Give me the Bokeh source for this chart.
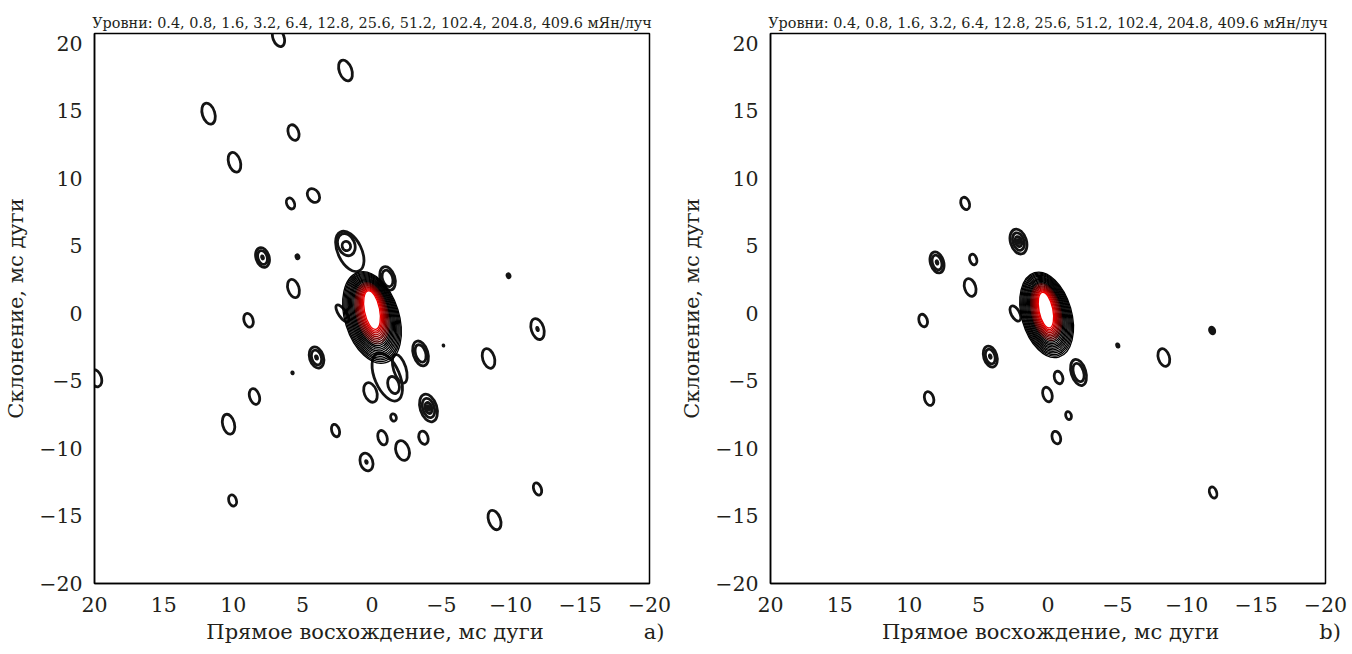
import numpy as np
from bokeh.plotting import figure
from bokeh.layouts import row
from bokeh.models import ColumnDataSource, FixedTicker, Range1d
from bokeh.embed import file_html
from bokeh.resources import INLINE

TITLE = "Уровни: 0.4, 0.8, 1.6, 3.2, 6.4, 12.8, 25.6, 51.2, 102.4, 204.8, 409.6 мЯн/луч"
X_LABEL = "Прямое восхождение, мс дуги"
Y_LABEL = "Склонение, мс дуги"
X_TICKS = [20, 15, 10, 5, 0, -5, -10, -15, -20]
Y_TICKS = [-20, -15, -10, -5, 0, 5, 10, 15, 20]
PANEL_TAGS = ["a)", "b)"]

# ---- panel a: compact components (RA mas, Dec mas, width, height, tilt rad, rings, central dot)
A_X    = [6.74, 1.91, 11.78, 5.66, 9.91, 5.87, 4.22, 7.89, 5.37, 5.66, 8.9, 4.0, 5.73, 19.9, 8.47, 10.34, 10.05, 2.63, 0.11, -1.55, -0.76, 0.4, -2.2, -3.71, -4.07, -3.5, -5.15, -8.4, -11.93, -9.84, -11.93, -8.83,
          1.6, 1.85, 1.85, -1.12, 2.13, -1.1, -1.55, -2.0]
A_Y    = [20.44, 18.0, 14.8, 13.4, 11.2, 8.15, 8.74, 4.15, 4.2, 1.85, -0.5, -3.26, -4.4, -4.8, -6.15, -8.2, -13.85, -8.67, -5.85, -7.7, -9.2, -11.0, -10.15, -9.2, -7.0, -2.96, -2.37, -3.33, -1.15, 2.8, -13.0, -15.3,
          4.6, 5.1, 5.0, 2.6, 0.0, -4.7, -5.3, -4.1]
A_W    = [0.8, 0.9, 0.9, 0.75, 0.85, 0.55, 0.8, 0.95, 0.3, 0.8, 0.65, 1.0, 0.2, 0.8, 0.7, 0.85, 0.55, 0.55, 0.9, 0.4, 0.65, 0.9, 0.95, 0.65, 1.2, 1.05, 0.15, 0.85, 0.9, 0.3, 0.55, 0.85,
          1.7, 1.2, 0.6, 1.05, 0.55, 1.8, 0.8, 0.9]
A_H    = [1.4, 1.6, 1.6, 1.2, 1.5, 0.85, 1.1, 1.5, 0.4, 1.4, 1.05, 1.6, 0.25, 1.3, 1.2, 1.5, 0.85, 0.95, 1.5, 0.55, 1.1, 1.35, 1.5, 1.0, 2.1, 1.9, 0.2, 1.5, 1.6, 0.4, 0.95, 1.5,
          3.2, 1.7, 0.7, 1.8, 1.5, 3.8, 1.3, 2.2]
A_ANG  = [0.35, 0.35, 0.3, 0.35, 0.3, 0.4, 0.6, 0.3, 0.3, 0.3, 0.3, 0.3, 0.3, 0.3, 0.3, 0.25, 0.3, 0.3, 0.35, 0.3, 0.3, 0.3, 0.3, 0.3, 0.3, 0.3, 0.3, 0.3, 0.3, 0.3, 0.35, 0.35,
          0.45, 0.4, 0.3, 0.3, 0.6, 0.4, 0.3, 0.3]
A_RINGS = [1, 1, 1, 1, 1, 1, 1, 2, 0, 1, 1, 2, 0, 1, 1, 1, 1, 1, 1, 1, 1, 1, 1, 1, 3, 2, 0, 1, 1, 0, 1, 1,
           1, 1, 1, 2, 1, 1, 1, 1]
A_DOT  = [0, 0, 0, 0, 0, 0, 0, 1, 0, 0, 0, 1, 0, 0, 0, 0, 0, 0, 0, 0, 0, 1, 0, 0, 1, 0, 0, 0, 1, 0, 0, 0,
          0, 0, 0, 0, 0, 0, 0, 0]
# core of panel a: [outermost contour, innermost contour]
A_CORE_X = [0.0, 0.0]
A_CORE_Y = [-0.3, 0.25]
A_CORE_W = [3.9, 1.1]
A_CORE_H = [7.0, 2.9]
A_CORE_ANG = [0.3, 0.2]

# ---- panel b
B_X    = [5.97, 8.0, 5.39, 5.61, 9.0, 8.57, 2.13, 2.35, 4.16, -5.03, -2.2, -0.76, 0.04, -1.48, -0.6, -8.35, -11.83, -11.9]
B_Y    = [8.15, 3.78, 4.0, 1.93, -0.52, -6.3, 5.33, 0.0, -3.19, -2.37, -4.37, -4.74, -6.0, -7.56, -9.19, -3.26, -1.26, -13.26]
B_W    = [0.6, 0.95, 0.5, 0.8, 0.6, 0.65, 1.15, 0.6, 0.95, 0.25, 1.05, 0.6, 0.65, 0.4, 0.6, 0.8, 0.45, 0.5]
B_H    = [0.95, 1.6, 0.8, 1.35, 0.95, 1.05, 1.9, 1.25, 1.6, 0.35, 2.0, 0.95, 1.1, 0.6, 0.95, 1.35, 0.6, 0.85]
B_ANG  = [0.35, 0.3, 0.3, 0.3, 0.3, 0.3, 0.3, 0.5, 0.3, 0.3, 0.3, 0.3, 0.3, 0.3, 0.3, 0.3, 0.35, 0.35]
B_RINGS = [1, 2, 1, 1, 1, 1, 3, 1, 2, 0, 2, 1, 1, 1, 1, 1, 0, 1]
B_DOT  = [0, 1, 0, 0, 0, 0, 1, 0, 1, 0, 0, 0, 0, 0, 0, 0, 0, 0]
B_CORE_X = [0.1, 0.15]
B_CORE_Y = [-0.1, 0.25]
B_CORE_W = [3.6, 1.0]
B_CORE_H = [6.5, 2.7]
B_CORE_ANG = [0.28, 0.2]

N_CORE_LEVELS = 20

FONT = "DejaVu Serif"
TXT = "#231f1a"
NBSP = "\u00a0"


def core_colors(n):
    cols = []
    for i in range(n):
        t = i / (n - 1)
        if t < 0.55:
            cols.append("#000000")
        else:
            u = (t - 0.55) / 0.45
            r = int(40 + u * 200)
            cols.append("#%02x%02x%02x" % (r, 0, 0))
    return cols


def make_panel(xs, ys, ws, hs, angs, rings, dots, cx, cy, cw, ch, ca, tag):
    p = figure(width=676, height=654, frame_width=555, frame_height=550,
               x_range=Range1d(20, -20), y_range=Range1d(-20, 20.74),
               output_backend="svg", toolbar_location=None,
               min_border_left=94, min_border_right=27, min_border_top=33, min_border_bottom=71)
    p.title.text = TITLE
    p.title.align = "center"
    p.title.text_font = FONT
    p.title.text_font_size = "14.4px"
    p.title.text_font_style = "normal"
    p.title.text_color = TXT
    p.title.standoff = 6
    p.grid.visible = False
    p.outline_line_color = "black"
    p.outline_line_width = 1.5
    p.background_fill_color = "white"
    p.border_fill_color = "white"

    p.xaxis.ticker = FixedTicker(ticks=X_TICKS)
    p.yaxis.ticker = FixedTicker(ticks=Y_TICKS)
    p.xaxis.major_label_overrides = {t: ("\u2212%d" % -t if t < 0 else str(t)) for t in X_TICKS}
    p.yaxis.major_label_overrides = {t: ("\u2212%d" % -t if t < 0 else str(t)) for t in Y_TICKS}
    for ax in (p.xaxis, p.yaxis):
        ax.major_tick_out = 0
        ax.major_tick_in = 0
        ax.minor_tick_out = 0
        ax.minor_tick_in = 0
        ax.axis_line_color = "black"
        ax.axis_line_width = 1.5
        ax.major_label_text_font = FONT
        ax.major_label_text_font_size = "20.5px"
        ax.major_label_text_color = TXT
        ax.axis_label_text_font = FONT
        ax.axis_label_text_font_size = "21px"
        ax.axis_label_text_font_style = "normal"
        ax.axis_label_text_color = TXT
    # x label with the panel tag at the right end of the same line
    p.xaxis.axis_label = NBSP * 19 + X_LABEL + NBSP * 15 + tag
    p.yaxis.axis_label = Y_LABEL
    p.xaxis.major_label_standoff = 13
    p.yaxis.major_label_standoff = 12
    p.xaxis.axis_label_standoff = 5
    p.yaxis.axis_label_standoff = 8

    # expand components into contour rings
    ex, ey, ew, eh, ea = [], [], [], [], []
    fx, fy, fw, fh, fa = [], [], [], [], []
    for x, y, w, h, a, r, d in zip(xs, ys, ws, hs, angs, rings, dots):
        if r == 0:
            fx.append(x); fy.append(y); fw.append(w); fh.append(h); fa.append(a)
            continue
        for k in range(r):
            s = 1.0 - 0.3 * k
            ex.append(x); ey.append(y); ew.append(w * s); eh.append(h * s); ea.append(a)
        if d:
            fx.append(x); fy.append(y); fw.append(w * 0.22); fh.append(h * 0.22); fa.append(a)
    p.ellipse(x="x", y="y", width="w", height="h", angle="a",
              source=ColumnDataSource(dict(x=ex, y=ey, w=ew, h=eh, a=ea)),
              fill_color=None, line_color="#141414", line_width=2.8)
    p.ellipse(x="x", y="y", width="w", height="h", angle="a",
              source=ColumnDataSource(dict(x=fx, y=fy, w=fw, h=fh, a=fa)),
              fill_color="#141414", line_color="#141414", line_width=1.5)

    # nested core contours
    t = np.linspace(0, 1, N_CORE_LEVELS)
    core = dict(
        x=cx[0] + (cx[1] - cx[0]) * t,
        y=cy[0] + (cy[1] - cy[0]) * t,
        w=cw[0] + (cw[1] - cw[0]) * t,
        h=ch[0] + (ch[1] - ch[0]) * t,
        a=ca[0] + (ca[1] - ca[0]) * t,
        c=core_colors(N_CORE_LEVELS),
    )
    p.ellipse(x="x", y="y", width="w", height="h", angle="a", source=ColumnDataSource(core),
              fill_color=None, line_color="c", line_width=1.3)
    return p


pa = make_panel(A_X, A_Y, A_W, A_H, A_ANG, A_RINGS, A_DOT,
                A_CORE_X, A_CORE_Y, A_CORE_W, A_CORE_H, A_CORE_ANG, PANEL_TAGS[0])
pb = make_panel(B_X, B_Y, B_W, B_H, B_ANG, B_RINGS, B_DOT,
                B_CORE_X, B_CORE_Y, B_CORE_W, B_CORE_H, B_CORE_ANG, PANEL_TAGS[1])

layout = row(pa, pb)
open("out.html", "w").write(file_html(layout, INLINE))
